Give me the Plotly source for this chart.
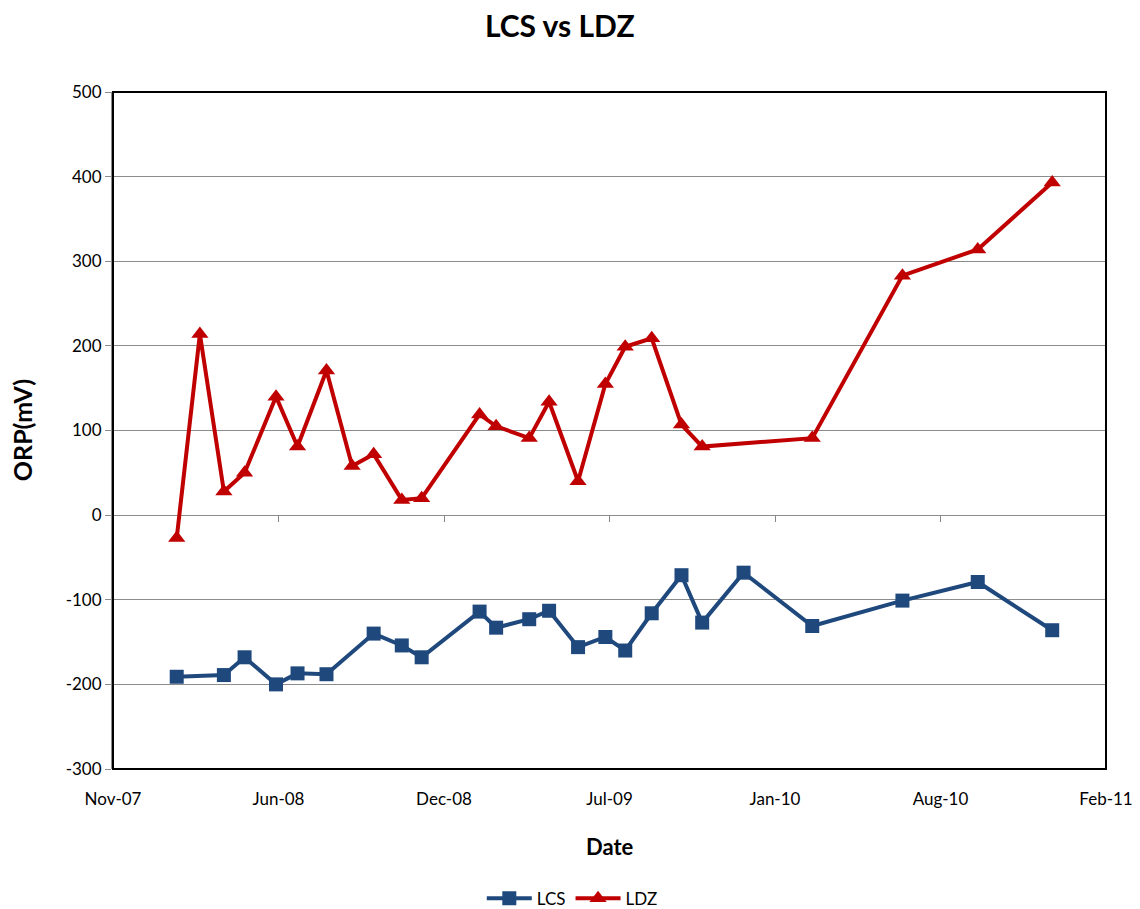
import plotly.graph_objects as go

# data
lcs_dates = [
    '2008-01-30', '2008-03-27', '2008-04-21', '2008-05-29', '2008-06-24',
    '2008-07-29', '2008-09-24', '2008-10-28', '2008-11-21', '2009-01-30',
    '2009-02-19', '2009-03-31', '2009-04-24', '2009-05-29', '2009-07-01',
    '2009-07-25', '2009-08-26', '2009-10-01', '2009-10-26', '2009-12-15',
    '2010-03-08', '2010-06-25', '2010-09-24', '2010-12-23']
lcs_orp = [
    -191, -189, -168, -200, -187, -188, -140, -154, -168, -114,
    -133, -123, -113, -156, -144, -160, -116, -71, -127, -68,
    -131, -101, -79, -136]

ldz_dates = [
    '2008-01-30', '2008-02-27', '2008-03-27', '2008-04-21', '2008-05-29',
    '2008-06-24', '2008-07-29', '2008-08-29', '2008-09-24', '2008-10-28',
    '2008-11-21', '2009-01-30', '2009-02-19', '2009-03-31', '2009-04-24',
    '2009-05-29', '2009-07-01', '2009-07-25', '2009-08-26', '2009-10-01',
    '2009-10-26', '2010-03-08', '2010-06-25', '2010-09-24', '2010-12-23']
ldz_orp = [
    -27, 214, 28, 50, 140, 81, 171, 58, 72, 18,
    20, 119, 105, 91, 134, 40, 155, 199, 209, 107,
    81, 91, 283, 314, 393]

tick_dates = ['2007-11-14', '2008-06-01', '2008-12-18', '2009-07-06',
              '2010-01-22', '2010-08-10', '2011-02-26']
tick_labels = ['Nov-07', 'Jun-08', 'Dec-08', 'Jul-09', 'Jan-10', 'Aug-10', 'Feb-11']
y_ticks = [-300, -200, -100, 0, 100, 200, 300, 400, 500]
y_labels = [str(v) for v in y_ticks]  # keep plain hyphen minus

font = 'Lato, "Open Sans", sans-serif'
x_range = [tick_dates[0], tick_dates[-1]]

fig = go.Figure()
fig.add_scatter(
    x=lcs_dates, y=lcs_orp, name='LCS', mode='lines+markers',
    line=dict(color='#1F497D', width=4),
    marker=dict(symbol='square', size=14, color='#1F497D'))
fig.add_scatter(
    x=ldz_dates, y=ldz_orp, name='LDZ', mode='lines+markers',
    line=dict(color='#C00000', width=4),
    marker=dict(symbol='triangle-up', size=15, color='#C00000'))
# dummy trace so the tick axis at y = 0 is drawn
fig.add_scatter(x=[lcs_dates[0]], y=[None], xaxis='x2', showlegend=False,
                hoverinfo='skip')

# plot box border
fig.add_shape(type='rect', xref='paper', yref='paper', x0=0, x1=1, y0=0, y1=1,
              line=dict(color='black', width=2), layer='above')

# axis titles
fig.add_annotation(text='<b>ORP(mV)</b>', xref='paper', yref='paper',
                   x=-0.092, y=0.5, xanchor='center', yanchor='middle',
                   textangle=-90, showarrow=False, font=dict(size=25))
fig.add_annotation(text='<b>Date</b>', xref='paper', yref='paper',
                   x=0.5, y=-0.115, xanchor='center', yanchor='middle',
                   showarrow=False, font=dict(size=22))

fig.update_layout(
    width=1140, height=909,
    margin=dict(l=105, r=42, t=84, b=148),
    paper_bgcolor='white', plot_bgcolor='white',
    font=dict(family=font, size=17, color='black'),
    title=dict(text='<b>LCS vs LDZ</b>', x=0.484, xanchor='center',
               y=0.98, yanchor='middle', font=dict(size=30)),
    showlegend=True,
    legend=dict(orientation='h', xref='container', x=0.495, xanchor='center',
                yref='container', y=0.02, yanchor='middle',
                font=dict(size=17), itemwidth=45),
    xaxis=dict(type='date', range=x_range, tickvals=tick_dates, ticktext=tick_labels,
               showgrid=False, zeroline=False, showline=False, ticks='',
               ticklabelstandoff=18, automargin=False),
    xaxis2=dict(type='date', range=x_range, tickvals=tick_dates, overlaying='x',
                anchor='free', position=0.375, side='bottom', showticklabels=False,
                showgrid=False, zeroline=False, showline=False,
                ticks='outside', ticklen=6, tickcolor='#888888', tickwidth=1),
    yaxis=dict(range=[-300, 500], tickvals=y_ticks, ticktext=y_labels,
               showgrid=True, gridcolor='#8C8C8C', gridwidth=1, zeroline=False,
               showline=True, linecolor='#8C8C8C', linewidth=2,
               ticks='outside', ticklen=6, tickcolor='#8C8C8C', automargin=False),
)

fig.write_html('out.html')
